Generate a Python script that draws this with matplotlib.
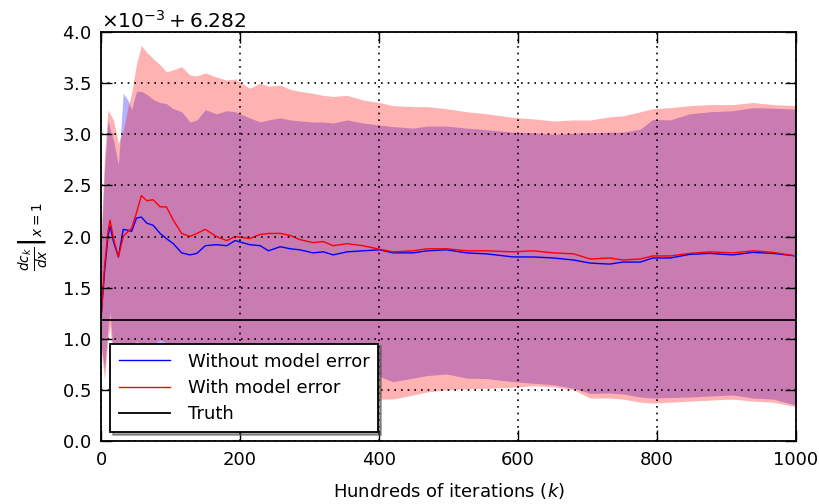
import matplotlib
matplotlib.use("Agg")
import matplotlib.pyplot as plt
import numpy as np
from matplotlib.ticker import ScalarFormatter, MultipleLocator

# values, in units of 1e-3 above the 6.282 offset
offset = 6.282
truth_value = 6.283185

k = [0, 5, 10, 13, 18, 25, 32, 39, 44, 51, 58, 66, 75, 85, 94, 104, 116, 128,
     138, 150, 166, 181, 193, 214, 229, 241, 258, 272, 286, 305, 320, 334, 354,
     377, 401, 420, 449, 469, 497, 526, 555, 593, 622, 651, 680, 704, 732, 751,
     776, 794, 819, 847, 876, 909, 938, 967, 1000]

mean_without = [1.20, 1.65, 2.00, 2.10, 1.95, 1.80, 2.07, 2.06, 2.05, 2.18, 2.19,
                2.13, 2.11, 2.03, 1.98, 1.93, 1.84, 1.82, 1.835, 1.91, 1.92, 1.91,
                1.96, 1.92, 1.91, 1.86, 1.90, 1.88, 1.87, 1.84, 1.85, 1.82, 1.85,
                1.86, 1.87, 1.84, 1.84, 1.86, 1.87, 1.84, 1.83, 1.80, 1.80, 1.79,
                1.77, 1.74, 1.73, 1.75, 1.75, 1.79, 1.79, 1.825, 1.835, 1.82,
                1.845, 1.835, 1.81]
upper_without = [1.9, 2.65, 3.14, 3.05, 2.94, 2.70, 3.40, 3.33, 3.24, 3.42, 3.42,
                 3.39, 3.34, 3.31, 3.30, 3.25, 3.22, 3.12, 3.14, 3.24, 3.20, 3.23,
                 3.22, 3.16, 3.12, 3.14, 3.16, 3.14, 3.13, 3.12, 3.12, 3.11, 3.14,
                 3.11, 3.09, 3.075, 3.06, 3.08, 3.08, 3.06, 3.045, 3.02, 3.015,
                 3.00, 3.01, 3.015, 3.02, 3.02, 3.05, 3.145, 3.14, 3.20, 3.22,
                 3.23, 3.26, 3.255, 3.245]
lower_without = [0.95, 0.70, 1.10, 1.26, 0.80, 0.65, 0.70, 0.75, 0.78, 0.80, 0.82,
                 0.82, 0.84, 0.84, 0.83, 0.80, 0.78, 0.77, 0.76, 0.74, 0.72, 0.71,
                 0.70, 0.69, 0.68, 0.67, 0.67, 0.66, 0.66, 0.65, 0.65, 0.65, 0.66,
                 0.65, 0.63, 0.58, 0.615, 0.64, 0.655, 0.615, 0.61, 0.58, 0.565,
                 0.55, 0.515, 0.465, 0.47, 0.46, 0.43, 0.42, 0.425, 0.43, 0.44,
                 0.45, 0.42, 0.41, 0.35]

mean_with = [1.20, 1.70, 2.05, 2.16, 1.98, 1.80, 2.00, 2.05, 2.08, 2.23, 2.40,
             2.35, 2.36, 2.29, 2.29, 2.16, 2.03, 2.00, 2.03, 2.07, 2.00, 1.96,
             2.00, 1.98, 2.02, 2.03, 2.03, 2.01, 1.97, 1.94, 1.95, 1.91, 1.93,
             1.91, 1.875, 1.85, 1.86, 1.88, 1.88, 1.86, 1.86, 1.85, 1.86, 1.84,
             1.83, 1.78, 1.79, 1.77, 1.78, 1.81, 1.81, 1.835, 1.85, 1.84, 1.86,
             1.845, 1.81]
upper_with = [2.0, 2.80, 3.24, 3.20, 3.14, 2.91, 3.04, 3.27, 3.40, 3.69, 3.87,
              3.80, 3.74, 3.68, 3.61, 3.63, 3.66, 3.58, 3.57, 3.60, 3.56, 3.53,
              3.54, 3.45, 3.50, 3.47, 3.48, 3.44, 3.42, 3.40, 3.38, 3.37, 3.38,
              3.335, 3.31, 3.28, 3.27, 3.27, 3.25, 3.22, 3.20, 3.165, 3.15, 3.13,
              3.14, 3.14, 3.17, 3.18, 3.22, 3.25, 3.26, 3.28, 3.29, 3.29, 3.31,
              3.29, 3.28]
lower_with = [0.90, 0.60, 1.00, 1.12, 0.70, 0.60, 0.85, 0.95, 0.93, 0.98, 0.94,
              0.97, 0.95, 0.99, 0.96, 0.85, 0.75, 0.70, 0.68, 0.65, 0.62, 0.58,
              0.56, 0.55, 0.52, 0.50, 0.50, 0.48, 0.47, 0.46, 0.45, 0.44, 0.43,
              0.42, 0.41, 0.41, 0.45, 0.48, 0.50, 0.51, 0.515, 0.525, 0.54, 0.53,
              0.50, 0.42, 0.42, 0.41, 0.38, 0.37, 0.38, 0.39, 0.40, 0.41, 0.39,
              0.38, 0.335]


def shift(vals):
    return offset + 1e-3 * np.array(vals)


class OffsetFormatter(ScalarFormatter):
    # same tick labels, offset written with spaces like the latex version
    def get_offset(self):
        return r'$\times10^{-3} + 6.282$'


plt.rcParams['font.family'] = ['DejaVu Sans']
plt.rcParams['mathtext.fontset'] = 'dejavusans'

fig = plt.figure(figsize=(8.2, 5.04), dpi=100)
ax = fig.add_axes([0.1232, 0.125, 0.8475, 0.8115])

ax.fill_between(k, shift(lower_without), shift(upper_without), color='b', alpha=0.3, lw=0)
ax.fill_between(k, shift(lower_with), shift(upper_with), color='r', alpha=0.3, lw=0)
ax.plot(k, shift(mean_without), color='b', lw=1.0, label='Without model error')
ax.plot(k, shift(mean_with), color='r', lw=1.0, label='With model error')
ax.axhline(truth_value, color='k', lw=1.3, label='Truth')

ax.set_xlim(0, 1000)
ax.set_ylim(6.282, 6.286)
ax.xaxis.set_major_locator(MultipleLocator(200))
ax.yaxis.set_major_locator(MultipleLocator(0.0005))
fmt = OffsetFormatter(useOffset=6.282, useMathText=True)
fmt.set_powerlimits((0, 0))
ax.yaxis.set_major_formatter(fmt)
ax.yaxis.get_offset_text().set_fontsize(14.5)

ax.set_axisbelow(False)
ax.grid(True, color='k', linestyle=(0, (1, 3)), lw=1.2)
ax.tick_params(direction='in', length=8, width=1, labelsize=13,
               top=True, right=True, pad=7)
for s in ax.spines.values():
    s.set_linewidth(1.3)

ax.set_xlabel('Hundreds of iterations ($k$)', fontsize=13, labelpad=9)
ax.set_ylabel(r'$\left.\frac{dc_k}{dx}\right|_{x=1}$', fontsize=14, labelpad=8)

leg = ax.legend(loc='lower left', fontsize=13, shadow=True, fancybox=False,
                handlelength=2.8, handletextpad=1.0, borderpad=0.5,
                labelspacing=0.45, framealpha=1)
leg.get_frame().set_edgecolor('k')
leg.get_frame().set_linewidth(1.3)

fig.savefig('out.png', dpi=100)
